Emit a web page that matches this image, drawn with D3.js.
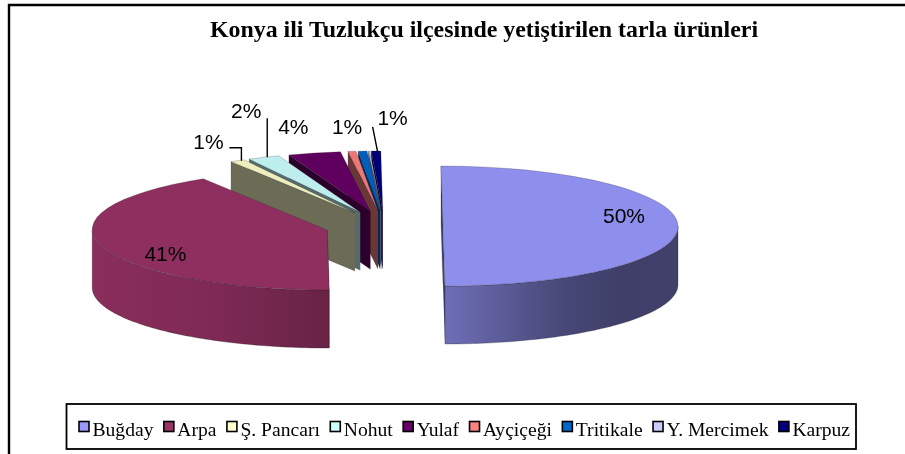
<!DOCTYPE html>
<html><head><meta charset="utf-8">
<script src="https://cdn.jsdelivr.net/npm/d3@7"></script>
<style>html,body{margin:0;padding:0;background:#fff}svg{display:block;filter:blur(.4px)}</style>
</head><body><svg id="c" width="905" height="454"></svg>
<script>
const titleText = "Konya ili Tuzlukçu ilçesinde yetiştirilen tarla ürünleri";
const categories = ["Buğday","Arpa","Ş. Pancarı","Nohut","Yulaf","Ayçiçeği","Tritikale","Y. Mercimek","Karpuz"];
const values = [50, 41.3, 1, 2.2, 3.6, 0.55, 0.6, 0.1, 0.65];
const valueLabels = ["50%","41%","1%","2%","4%","1%","","","1%"];
const colors = ["#9999ff","#993366","#ffffcc","#ccffff","#660066","#ff8080","#0066cc","#ccccff","#000080"];

const svg = d3.select("#c");
const defs = svg.append("defs");
const W = 905, H = 454;
const cx = 384, cy = 226, rx = 235, ry = 60, depth = 58, explode = 59, shear = 0.033;

// frame
svg.append("path").attr("d", d3.line()([[9,H],[9,5],[W,5]]))
  .attr("fill","none").attr("stroke","#000").attr("stroke-width",2.4);

svg.append("text").attr("x",484).attr("y",37).attr("text-anchor","middle")
  .attr("font-family","'Liberation Serif'").attr("font-weight","bold").attr("font-size",23.9)
  .attr("fill","#000").text(titleText);

const pie = d3.pie().sort(null).value(d => d.value).startAngle(0).endAngle(2*Math.PI);
const slices = pie(categories.map((name,i)=>({name,value:values[i],color:colors[i],label:valueLabels[i],i})));
const arc = d3.arc().innerRadius(0).outerRadius(rx);
const line = d3.line();

slices.forEach(s=>{
  const mid = (s.startAngle+s.endAngle)/2;
  s.mid = mid;
  s.cx = cx + explode*Math.sin(mid);
  s.cy = cy - explode*(ry/rx)*Math.cos(mid);
});
function pt(s,a,r=rx,dz=0){
  const y = -r*(ry/rx)*Math.cos(a);
  return [s.cx + r*Math.sin(a) + shear*y, s.cy + y + dz];
}
function face(s,a){
  return line([pt(s,a,0),pt(s,a,rx),pt(s,a,rx,depth),pt(s,a,0,depth)]);
}
const g = svg.append("g");
const edge = "rgba(30,30,30,.55)";

slices.slice().reverse().forEach(s=>{
  const base = d3.rgb(s.data.color);
  const mul = f => d3.rgb(base.r*f,base.g*f,base.b*f).formatHex();
  const o = g.append("g");
  // cut faces
  o.append("path").attr("d",face(s,s.startAngle)).attr("fill",mul(.42)).attr("stroke",edge).attr("stroke-width",.4);
  if (s.endAngle <= Math.PI+0.02)
    o.append("path").attr("d",face(s,s.endAngle)).attr("fill",mul(.42));
  // outer wall (front half only)
  const a0 = Math.max(s.startAngle,Math.PI/2), a1 = Math.min(s.endAngle,3*Math.PI/2);
  if (a1 > a0){
    const n = 80, top = d3.range(n+1).map(k=>pt(s,a0+(a1-a0)*k/n));
    const bot = top.map(p=>[p[0],p[1]+depth]).reverse();
    const xs = top.map(p=>p[0]);
    const id = "w"+s.data.i;
    const grad = defs.append("linearGradient").attr("id",id).attr("gradientUnits","userSpaceOnUse")
      .attr("x1",d3.min(xs)).attr("x2",d3.max(xs)).attr("y1",0).attr("y2",0);
    const stops = s.data.i===0 ? [[0,.72],[.5,.47],[.75,.41],[1,.42]] : [[0,.9],[.5,.83],[1,.68]];
    stops.forEach(t=>grad.append("stop").attr("offset",t[0]).attr("stop-color",mul(t[1])));
    o.append("path").attr("d",line(top.concat(bot))+"Z").attr("fill",`url(#${id})`).attr("stroke",edge).attr("stroke-width",.5);
  }
  // top surface
  o.append("path").attr("d",arc(s))
    .attr("transform",`translate(${s.cx},${s.cy}) matrix(1,0,${shear*ry/rx},${ry/rx},0,0)`)
    .attr("fill",mul(.93)).attr("stroke",edge).attr("stroke-width",.6);
});

// data labels: [dx,dy] from the middle of each slice's outer edge
const labelNudge = {0:[-54,-10],1:[64,8],2:[-29,-19],3:[-17.5,-46],4:[-21,-26],5:[-5,-24],8:[16.6,-33]};
const leaders = {2:[[-8,-13],[4,-13],[4,0]],3:[[3.5,-39],[3.5,0]],8:[[-3.4,-24],[1.6,1]]};
slices.forEach(s=>{
  const i = s.data.i;
  if(!s.data.label) return;
  const p = pt(s,s.mid), nd = labelNudge[i];
  svg.append("text").attr("x",p[0]+nd[0]).attr("y",p[1]+nd[1]+7).attr("text-anchor","middle")
    .attr("font-family","'Liberation Sans'").attr("font-size",21).attr("fill","#000").text(s.data.label);
  if(leaders[i]) svg.append("path").attr("d",line(leaders[i].map(q=>[p[0]+q[0],p[1]+q[1]])))
    .attr("fill","none").attr("stroke","#000").attr("stroke-width",1.4);
});

// legend
svg.append("rect").attr("x",66.5).attr("y",404).attr("width",789.5).attr("height",45)
  .attr("fill","#fff").attr("stroke","#000").attr("stroke-width",1.8);
let lx = 79;
slices.forEach(s=>{
  const it = svg.append("g");
  it.append("rect").attr("x",lx).attr("y",421.5).attr("width",10).attr("height",10)
    .attr("fill",s.data.color).attr("stroke","#000").attr("stroke-width",1.6);
  const t = it.append("text").attr("x",lx+13.5).attr("y",436)
    .attr("font-family","'Liberation Serif'").attr("font-size",19.6).attr("fill","#000").text(s.data.name);
  lx += 13.5 + t.node().getComputedTextLength() + 10.4;
});
</script></body></html>
